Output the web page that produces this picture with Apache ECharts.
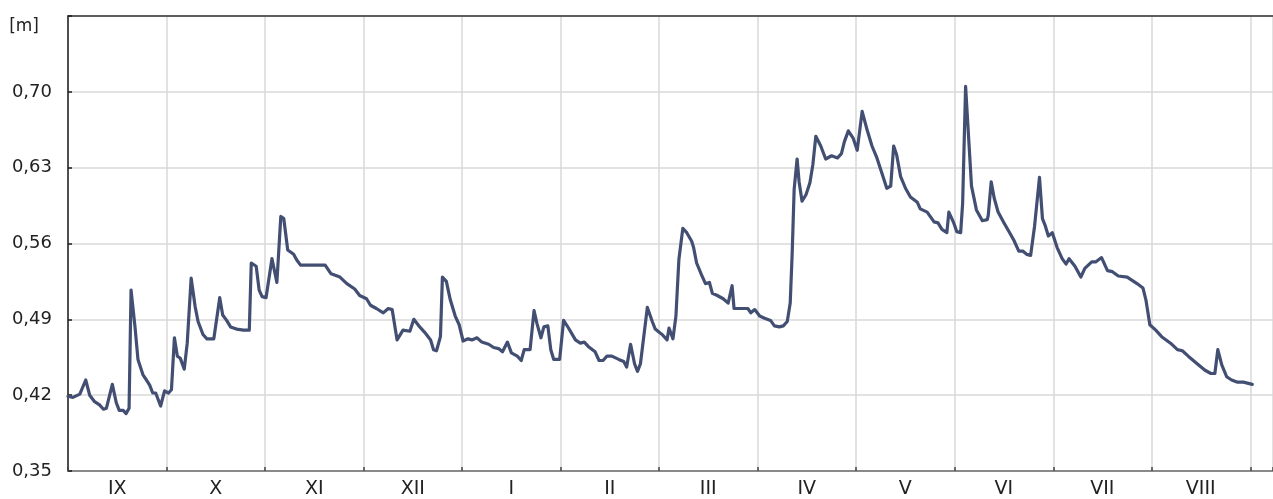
<!DOCTYPE html>
<html>
<head>
<meta charset="utf-8">
<title>Stan wody</title>
<script src="https://cdn.jsdelivr.net/npm/echarts@6/dist/echarts.min.js"></script>
<style>
  html, body { margin: 0; padding: 0; background: #ffffff; }
  #chart { width: 1273px; height: 499px; }
</style>
</head>
<body>
<div id="chart"></div>
<script>
// Hydrological year, September to August
const months = ['IX', 'X', 'XI', 'XII', 'I', 'II', 'III', 'IV', 'V', 'VI', 'VII', 'VIII'];

// Time in months since 1 September
const monthTime = [
  0.00, 0.05, 0.12, 0.18, 0.22, 0.27, 0.32, 0.36, 0.39, 0.45, 0.49, 0.52, 0.56, 0.59, 0.62, 0.64, 0.68, 0.71, 0.76, 0.81,
  0.83, 0.86, 0.89, 0.94, 0.98, 1.02, 1.05, 1.08, 1.11, 1.14, 1.18, 1.21, 1.25, 1.29, 1.32, 1.37, 1.41, 1.48, 1.54, 1.57,
  1.61, 1.65, 1.71, 1.78, 1.84, 1.86, 1.91, 1.94, 1.97, 2.01,
  2.07, 2.12, 2.16, 2.19, 2.23, 2.29, 2.32, 2.36, 2.46, 2.61, 2.67, 2.76, 2.83, 2.91, 2.96, 3.03, 3.07, 3.13, 3.20, 3.25,
  3.29, 3.34, 3.40, 3.47, 3.51, 3.57, 3.62, 3.68, 3.71, 3.74, 3.78, 3.80, 3.84, 3.88, 3.93, 3.97, 4.01,
  4.06, 4.10, 4.15, 4.20, 4.27, 4.32, 4.37, 4.41, 4.46, 4.50, 4.56, 4.60, 4.63, 4.69, 4.73, 4.76, 4.80, 4.83, 4.87, 4.90,
  4.93, 4.99, 5.03, 5.08, 5.15, 5.20, 5.24, 5.28, 5.35, 5.39, 5.43, 5.47, 5.52, 5.59, 5.64, 5.67, 5.69, 5.71, 5.75, 5.78,
  5.81, 5.88, 5.93, 5.96, 6.00,
  6.03, 6.08, 6.10, 6.14, 6.17, 6.20, 6.24, 6.28, 6.33, 6.35, 6.38, 6.43, 6.47, 6.51, 6.54, 6.59, 6.65, 6.70, 6.74, 6.76,
  6.84, 6.90, 6.93, 6.97, 7.02, 7.07, 7.13, 7.17, 7.22, 7.26, 7.30, 7.33, 7.35, 7.37, 7.40, 7.42, 7.45, 7.49, 7.53, 7.56,
  7.59, 7.64, 7.69, 7.75, 7.81, 7.85, 7.88, 7.92, 7.97, 8.01,
  8.06, 8.11, 8.16, 8.21, 8.26, 8.31, 8.35, 8.38, 8.41, 8.45, 8.50, 8.55, 8.62, 8.65, 8.72, 8.79, 8.83, 8.87, 8.92, 8.94,
  8.99, 9.02, 9.06, 9.08, 9.11, 9.14, 9.17, 9.22, 9.28, 9.33, 9.34, 9.37, 9.40, 9.44, 9.50, 9.55, 9.60, 9.65, 9.69, 9.73,
  9.77, 9.81, 9.86, 9.89, 9.92, 9.95, 9.99,
  10.04, 10.09, 10.13, 10.16, 10.22, 10.28, 10.32, 10.39, 10.43, 10.49, 10.55, 10.60, 10.66, 10.75, 10.80, 10.85, 10.91, 10.94, 10.98, 11.04,
  11.10, 11.19, 11.26, 11.31, 11.37, 11.46, 11.54, 11.60, 11.64, 11.67, 11.71, 11.76, 11.81, 11.87, 11.93, 12.02
];

// Water level [m]
const waterLevel = [
  0.419, 0.418, 0.421, 0.434, 0.420, 0.414, 0.411, 0.407, 0.408, 0.430, 0.413, 0.406, 0.406, 0.403, 0.408, 0.517, 0.483, 0.453, 0.439, 0.432,
  0.429, 0.422, 0.422, 0.410, 0.424, 0.422, 0.425, 0.473, 0.456, 0.454, 0.444, 0.468, 0.528, 0.502, 0.488, 0.476, 0.472, 0.472, 0.510, 0.494,
  0.489, 0.483, 0.481, 0.480, 0.480, 0.542, 0.539, 0.517, 0.511, 0.510,
  0.546, 0.524, 0.585, 0.583, 0.554, 0.550, 0.545, 0.540, 0.540, 0.540, 0.532, 0.529, 0.523, 0.518, 0.512, 0.509, 0.503, 0.500, 0.496, 0.500,
  0.499, 0.471, 0.480, 0.479, 0.490, 0.483, 0.478, 0.471, 0.462, 0.461, 0.474, 0.529, 0.525, 0.508, 0.493, 0.485, 0.470,
  0.472, 0.471, 0.473, 0.469, 0.467, 0.464, 0.463, 0.460, 0.469, 0.459, 0.456, 0.452, 0.462, 0.462, 0.498, 0.486, 0.473, 0.483, 0.484, 0.462,
  0.453, 0.453, 0.489, 0.482, 0.471, 0.468, 0.469, 0.465, 0.460, 0.452, 0.452, 0.456, 0.456, 0.453, 0.451, 0.446, 0.445, 0.467, 0.449, 0.442,
  0.449, 0.501, 0.488, 0.481, 0.478,
  0.476, 0.471, 0.482, 0.472, 0.493, 0.545, 0.574, 0.570, 0.562, 0.556, 0.542, 0.531, 0.523, 0.524, 0.514, 0.512, 0.509, 0.505, 0.521, 0.500,
  0.500, 0.500, 0.496, 0.499, 0.493, 0.491, 0.489, 0.484, 0.483, 0.484, 0.488, 0.505, 0.551, 0.610, 0.638, 0.617, 0.599, 0.605, 0.616, 0.633,
  0.659, 0.650, 0.638, 0.641, 0.639, 0.643, 0.654, 0.664, 0.657, 0.646,
  0.682, 0.665, 0.650, 0.639, 0.625, 0.611, 0.613, 0.650, 0.642, 0.622, 0.611, 0.603, 0.598, 0.592, 0.589, 0.580, 0.579, 0.573, 0.570, 0.589,
  0.579, 0.571, 0.570, 0.597, 0.705, 0.659, 0.613, 0.591, 0.581, 0.582, 0.586, 0.617, 0.602, 0.589, 0.579, 0.571, 0.563, 0.553, 0.553, 0.550,
  0.549, 0.576, 0.621, 0.583, 0.576, 0.567, 0.570,
  0.556, 0.546, 0.541, 0.546, 0.539, 0.529, 0.537, 0.543, 0.543, 0.547, 0.535, 0.534, 0.530, 0.529, 0.526, 0.523, 0.519, 0.508, 0.485, 0.480,
  0.474, 0.468, 0.462, 0.461, 0.456, 0.449, 0.443, 0.440, 0.440, 0.462, 0.448, 0.437, 0.434, 0.432, 0.432, 0.430
];

// Y axis scale
const levelMin = 0.35;
const levelMax = 0.77;
const levelStep = 0.07;
const unitLabel = '[m]';

const series = monthTime.map((t, i) => [t, waterLevel[i]]);

const FONT = 'DejaVu Sans';
const TEXT_COLOR = '#222222';
const GRID_COLOR = '#d9d9d9';

const chart = echarts.init(document.getElementById('chart'), null, { renderer: 'canvas' });

chart.setOption({
  animation: false,
  backgroundColor: '#ffffff',
  grid: [
    { left: 68, right: 0, top: 16, bottom: 28, containLabel: false },
    { left: 68, right: 23, top: 16, bottom: 28, containLabel: false }
  ],
  xAxis: [
    {
      gridIndex: 0,
      type: 'value',
      min: 0,
      max: 12.23,
      interval: 1,
      axisLine: { show: true, lineStyle: { color: '#6e6e6e', width: 1.5 } },
      axisTick: { show: true, inside: true, length: 4, lineStyle: { color: '#444444', width: 1.5 } },
      axisLabel: { show: false },
      splitLine: { show: true, lineStyle: { color: GRID_COLOR, width: 1.5 } }
    },
    {
      // month names centred in each month
      gridIndex: 1,
      type: 'category',
      data: months,
      boundaryGap: true,
      axisLine: { show: false },
      axisTick: { show: false },
      splitLine: { show: false },
      axisLabel: {
        show: true,
        interval: 0,
        margin: 16,
        color: TEXT_COLOR,
        fontFamily: FONT,
        fontSize: 19
      }
    },
    {
      // frame line along the top edge
      gridIndex: 0,
      type: 'value',
      position: 'top',
      min: 0,
      max: 12.23,
      axisLine: { show: true, lineStyle: { color: '#333333', width: 1.5 } },
      axisTick: { show: false },
      axisLabel: { show: false },
      splitLine: { show: false }
    }
  ],
  yAxis: [
    {
      gridIndex: 0,
      type: 'value',
      min: levelMin,
      max: levelMax,
      interval: levelStep,
      axisLine: { show: true, lineStyle: { color: '#1e1e1e', width: 1.5 } },
      axisTick: { show: true, inside: true, length: 4, lineStyle: { color: '#1e1e1e', width: 1.5 } },
      splitLine: { show: true, lineStyle: { color: GRID_COLOR, width: 1.5 } },
      axisLabel: {
        show: true,
        showMinLabel: true,
        showMaxLabel: true,
        margin: 16,
        color: TEXT_COLOR,
        fontFamily: FONT,
        fontSize: 18,
        formatter: function (v) {
          if (Math.abs(v - levelMax) < 1e-6) return '{unit|' + unitLabel + '}';
          return v.toFixed(2).replace('.', ',');
        },
        rich: {
          unit: {
            color: TEXT_COLOR,
            fontFamily: FONT,
            fontSize: 17,
            padding: [22, 13, 0, 0]
          }
        }
      }
    },
    {
      gridIndex: 1,
      type: 'value',
      show: false,
      min: 0,
      max: 1
    }
  ],
  series: [
    {
      type: 'line',
      xAxisIndex: 0,
      yAxisIndex: 0,
      data: series,
      showSymbol: false,
      smooth: false,
      lineStyle: { color: '#434f72', width: 3.2, join: 'round', cap: 'round' },
      z: 5
    }
  ]
});
</script>
</body>
</html>
